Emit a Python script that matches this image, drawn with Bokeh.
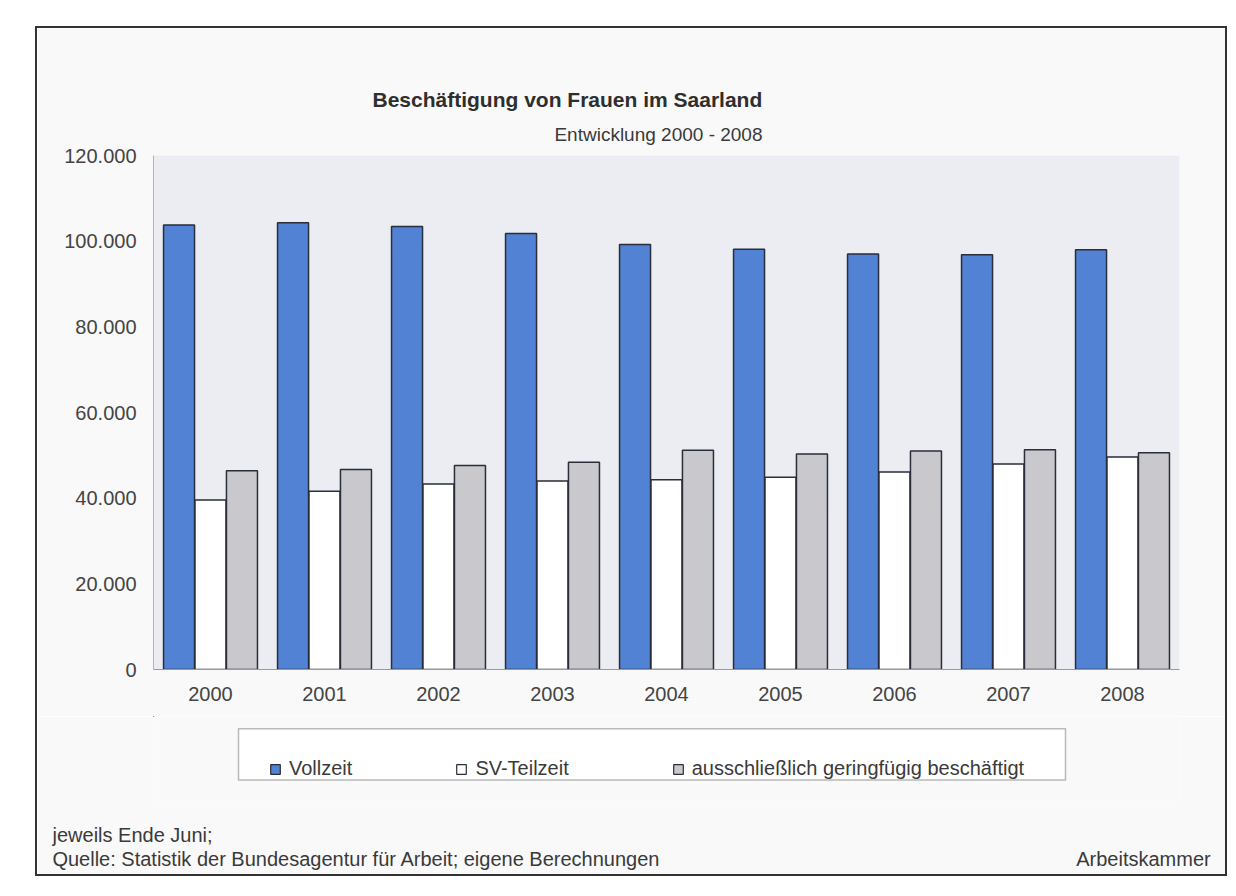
from bokeh.plotting import figure
from bokeh.layouts import column
from bokeh.models import (ColumnDataSource, FactorRange, Range1d, Legend, LegendItem,
                          Title, FixedTicker, LinearAxis)
from bokeh.transform import dodge
from bokeh.embed import file_html
from bokeh.resources import INLINE

# ---- data ----
years = ["2000", "2001", "2002", "2003", "2004", "2005", "2006", "2007", "2008"]
vollzeit = [103800, 104300, 103400, 101800, 99200, 98100, 97000, 96800, 98000]
sv_teilzeit = [39600, 41600, 43300, 44000, 44300, 44900, 46100, 48000, 49600]
geringfuegig = [46400, 46700, 47600, 48400, 51200, 50300, 51000, 51300, 50600]
series_names = ["Vollzeit", "SV-Teilzeit", "ausschließlich geringfügig beschäftigt"]
series_colors = ["#5282d3", "#ffffff", "#c9c9cd"]
y_ticks = [0, 20000, 40000, 60000, 80000, 100000, 120000]
y_tick_labels = ["0", "20.000", "40.000", "60.000", "80.000", "100.000", "120.000"]
title_text = "Beschäftigung von Frauen im Saarland"
subtitle_text = "Entwicklung 2000 - 2008"
note_text = "jeweils Ende Juni;"
source_text = "Quelle: Statistik der Bundesagentur für Arbeit; eigene Berechnungen"
credit_text = "Arbeitskammer"

FONT = "Liberation Sans"
TXT = "#3a3a3a"
EDGE = "#2a2d3a"
BOX = "2px solid #333333"
BG = "#f9f9f9"
FRAME_L, FRAME_R = 153, 1179   # plot-area edges on the page (both figures share them)

src = ColumnDataSource(dict(year=years, v=vollzeit, t=sv_teilzeit, g=geringfuegig))

# ---------- main chart: page y 26..716, canvas at page (37, 28) ----------
p = figure(x_range=FactorRange(*years), y_range=Range1d(0, 120000),
           width=1192, height=690, output_backend="svg", toolbar_location=None,
           styles={"border-top": BOX, "border-left": BOX, "border-right": BOX},
           min_border_left=116, min_border_right=50, min_border_top=127, min_border_bottom=49)
p.background_fill_color = "#ebedf2"
p.border_fill_color = BG
p.outline_line_color = None
p.xgrid.grid_line_color = None
p.ygrid.grid_line_color = None

bw = 0.272
off = 0.276
for field, dx, color in zip(["v", "t", "g"], [-off, 0.0, off], series_colors):
    p.vbar(x=dodge("year", dx, range=p.x_range), top=field, width=bw, source=src,
           fill_color=color, line_color=EDGE, line_width=1.5)

p.yaxis.ticker = FixedTicker(ticks=y_ticks)
p.yaxis.major_label_overrides = {t: l for t, l in zip(y_ticks, y_tick_labels)}
for ax in (p.xaxis[0], p.yaxis[0]):
    ax.major_tick_line_color = None
    ax.minor_tick_line_color = None
    ax.major_tick_out = 0
    ax.major_tick_in = 0
    ax.major_label_text_font = FONT
    ax.major_label_text_font_size = "20px"
    ax.major_label_text_color = "#444444"
p.yaxis.axis_line_color = "#b4b4b8"
p.xaxis.axis_line_color = "#9a9a9e"
p.yaxis.major_label_standoff = 17
p.xaxis.major_label_standoff = 17

# titles above (first added = closest to frame)
p.add_layout(Title(text=subtitle_text, align="right", offset=417, standoff=22,
                   text_font=FONT, text_font_size="19px", text_font_style="normal",
                   text_color=TXT), "above")
p.add_layout(Title(text=title_text, align="left", offset=219, standoff=0,
                   text_font=FONT, text_font_size="21px", text_font_style="bold",
                   text_color="#2e2e2e"), "above")

# ---------- footer strip: page y 716..876; frame x 153..1179, y 716..800 ----------
f = figure(x_range=Range1d(FRAME_L, FRAME_R), y_range=Range1d(800, 716),
           width=1192, height=160, output_backend="svg", toolbar_location=None,
           styles={"border-bottom": BOX, "border-left": BOX, "border-right": BOX},
           x_axis_location=None, y_axis_location=None,
           min_border_left=116, min_border_right=50, min_border_top=0, min_border_bottom=74)
f.background_fill_color = BG
f.border_fill_color = BG
f.outline_line_color = None
f.xgrid.grid_line_color = None
f.ygrid.grid_line_color = None

# legend frame (page pixel coords)
f.quad(left=[238], right=[1065], top=[728], bottom=[778],
       fill_color="#ffffff", line_color="#b8b8b8", line_width=1.5)

# legend swatches: zero-height renderers outside the visible range
items = []
for name, color in zip(series_names, series_colors):
    r = f.vbar(x=[0], top=[0], bottom=[0], width=1, fill_color=color,
               line_color=EDGE, line_width=1.2)
    items.append(LegendItem(label=name, renderers=[r]))
legend = Legend(items=items, orientation="horizontal",
                location=(283 - 14 - FRAME_L, 800 - 778),
                padding=14, margin=0, spacing=103, label_standoff=8,
                glyph_width=12, glyph_height=12, label_height=22,
                label_text_font=FONT, label_text_font_size="20px", label_text_color=TXT,
                border_line_color=None, background_fill_alpha=0)
f.add_layout(legend, "center")

# footer note as a title; source + credit share one line as labels of a bare axis
f.add_layout(Title(text=note_text, align="left", offset=52 - FRAME_L, standoff=42,
                   vertical_align="top", text_font=FONT, text_font_size="20px",
                   text_font_style="normal", text_color=TXT), "below")
src_w = 30.4 * 20      # estimated rendered widths at 20px
cred_w = 6.72 * 20
src_c = round(52 + src_w / 2)
cred_c = round(1210 - cred_w / 2)
foot = LinearAxis(ticker=FixedTicker(ticks=[src_c, cred_c]),
                  major_label_overrides={src_c: source_text, cred_c: credit_text},
                  axis_line_color=None, major_tick_line_color=None, minor_tick_line_color=None,
                  major_tick_in=0, major_tick_out=0, major_label_standoff=-21,
                  major_label_text_font=FONT, major_label_text_font_size="20px",
                  major_label_text_color=TXT)
f.add_layout(foot, "below")

layout = column(p, f, spacing=0, margin=(26, 0, 0, 35))
open("out.html", "w").write(file_html(layout, INLINE))
